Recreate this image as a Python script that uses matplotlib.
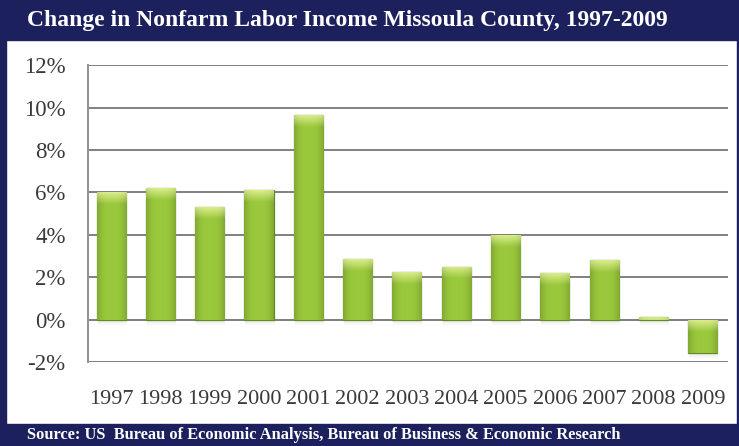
import matplotlib
matplotlib.use("Agg")
import matplotlib.pyplot as plt
import numpy as np
from matplotlib.patches import Rectangle
from matplotlib.ticker import FuncFormatter

years = ['1997', '1998', '1999', '2000', '2001', '2002', '2003',
         '2004', '2005', '2006', '2007', '2008', '2009']
change_pct = [6.0, 6.2, 5.3, 6.1, 9.65, 2.85, 2.25, 2.5, 4.0, 2.2, 2.8, 0.15, -1.55]
y_ticks = [-2, 0, 2, 4, 6, 8, 10, 12]

navy = '#1c205c'
plt.rcParams['font.family'] = ['Liberation Serif', 'DejaVu Serif']

fig = plt.figure(figsize=(7.39, 4.46), dpi=100)
fig.patch.set_facecolor('white')

# frame: title band, footer band and side borders
fig.patches.append(Rectangle((0, 0.91), 1, 0.09, transform=fig.transFigure, color=navy, zorder=0))
fig.patches.append(Rectangle((0, 0), 1, 0.05, transform=fig.transFigure, color=navy, zorder=0))
fig.patches.append(Rectangle((0, 0), 0.008, 1, transform=fig.transFigure, color=navy, zorder=0))
fig.patches.append(Rectangle((0.997, 0), 0.003, 1, transform=fig.transFigure, color=navy, zorder=0))

fig.text(0.037, 0.953, 'Change in Nonfarm Labor Income Missoula County, 1997-2009',
         color='white', fontsize=17, fontweight='bold', va='center', ha='left')
fig.text(0.037, 0.024, 'Source: US  Bureau of Economic Analysis, Bureau of Business & Economic Research',
         color='white', fontsize=11.8, fontweight='bold', va='center', ha='left')

ax = fig.add_axes([0.119, 0.188, 0.866, 0.666])
x = np.arange(len(years))
bars = ax.bar(x, change_pct, width=0.59, color='#8cb83a', edgecolor='#5f8a22',
              linewidth=0.9, zorder=3)

# bar shading: darker sides, light cap fading down from the top end
nx = 48
u = np.linspace(0, 1, nx)
side = 1 - 0.5 * (2 * np.abs(u - 0.5)) ** 3
base = np.array([0.56, 0.73, 0.22])
cap_col = np.array([0.86, 0.93, 0.55])
cap_depth = 0.55
for b in bars:
    bx, by = b.get_x(), b.get_y()
    bw, bh = b.get_width(), b.get_height()
    lo, hi = min(by, by + bh), max(by, by + bh)
    ny = max(int((hi - lo) * 40), 4)
    yy = np.linspace(hi, lo, ny)
    t = np.clip((hi - yy) / cap_depth, 0, 1)[:, None, None]
    body = base[None, None, :] * (0.72 + 0.36 * side[None, :, None])
    top = cap_col[None, None, :] * (0.85 + 0.15 * side[None, :, None])
    img = np.clip(top * (1 - t) + body * t, 0, 1)
    im = ax.imshow(img, extent=[bx, bx + bw, lo, hi], aspect='auto', zorder=4,
                   interpolation='bilinear')
    im.set_clip_path(b)
    # soft shadow under the bar
    for k, a in enumerate([0.25, 0.15, 0.08]):
        ax.add_patch(Rectangle((bx + 0.02, lo - 0.08 * (k + 1)), bw, 0.08,
                               color='#999999', alpha=a, zorder=2, linewidth=0))

ax.set_xlim(-0.47, len(years) - 0.49)
ax.set_ylim(-2, 12)
ax.set_yticks(y_ticks)
ax.yaxis.set_major_formatter(FuncFormatter(lambda v, p: f'{v:.0f}%'))
ax.grid(axis='y', color='#808080', linewidth=1.4, zorder=0)
ax.set_xticks(x)
ax.set_xticklabels(years)
ax.tick_params(axis='both', length=0, colors='#3a3a3a')
ax.tick_params(axis='x', pad=20, labelsize=16)
ax.tick_params(axis='y', pad=16, labelsize=16.5)
ax.axhline(0, color='#808080', linewidth=1.4, zorder=1)
for side_name in ['top', 'right', 'bottom']:
    ax.spines[side_name].set_visible(False)
ax.spines['left'].set_color('#909090')
ax.spines['left'].set_linewidth(1.4)

fig.savefig('out.png', dpi=100)
